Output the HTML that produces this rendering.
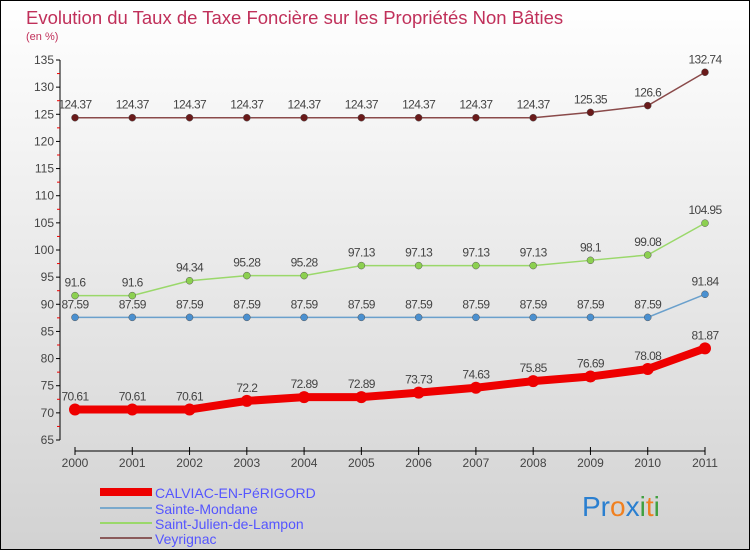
<!DOCTYPE html>
<html><head><meta charset="utf-8"><style>
body{margin:0;width:750px;height:550px;overflow:hidden}
svg{display:block;font-family:"Liberation Sans",sans-serif}
</style></head><body>
<svg id="chart" width="750" height="550">
<defs><linearGradient id="bg" x1="0" y1="0" x2="0" y2="1"><stop offset="0" stop-color="#ffffff"/><stop offset="1" stop-color="#d2d2d2"/></linearGradient></defs>
<rect x="0.5" y="0.5" width="749" height="549" fill="url(#bg)" stroke="#000"/>
<text x="26" y="24" font-size="18.5" fill="#c0305a">Evolution du Taux de Taxe Foncière sur les Propriétés Non Bâties</text>
<text x="26" y="40" font-size="11" fill="#c0305a">(en %)</text>
<g id="axes"></g>
<g id="series"></g>
<g>
<rect x="100" y="488" width="52" height="8" fill="#e00"/>
<text x="155" y="498" font-size="14" fill="#55f">CALVIAC-EN-PéRIGORD</text>
<line x1="100" y1="508" x2="152" y2="508" stroke="#7aa9cc" stroke-width="2"/>
<text x="155" y="514" font-size="14" fill="#55f">Sainte-Mondane</text>
<line x1="100" y1="523" x2="152" y2="523" stroke="#9ad86a" stroke-width="2"/>
<text x="155" y="529" font-size="14" fill="#55f">Saint-Julien-de-Lampon</text>
<line x1="100" y1="538" x2="152" y2="538" stroke="#8a5a5a" stroke-width="2"/>
<text x="155" y="544" font-size="14" fill="#55f">Veyrignac</text>
</g>
<text x="582" y="516" font-size="28"><tspan fill="#2a7fd0">Pr</tspan><tspan fill="#f08020">o</tspan><tspan fill="#2a7fd0">x</tspan><tspan fill="#40a040">i</tspan><tspan fill="#f08020">t</tspan><tspan fill="#40a040">i</tspan></text>
</svg>
<script>
const years=[2000,2001,2002,2003,2004,2005,2006,2007,2008,2009,2010,2011];
const yTicks=[65,70,75,80,85,90,95,100,105,110,115,120,125,130,135];
const calviac=[70.61,70.61,70.61,72.2,72.89,72.89,73.73,74.63,75.85,76.69,78.08,81.87];
const sainteMondane=[87.59,87.59,87.59,87.59,87.59,87.59,87.59,87.59,87.59,87.59,87.59,91.84];
const saintJulien=[91.6,91.6,94.34,95.28,95.28,97.13,97.13,97.13,97.13,98.1,99.08,104.95];
const veyrignac=[124.37,124.37,124.37,124.37,124.37,124.37,124.37,124.37,124.37,125.35,126.6,132.74];
const NS="http://www.w3.org/2000/svg";
const xS=i=>75+i*(630/11);
const yS=v=>440-(v-65)*(380/70);
function mk(t,a,p){const e=document.createElementNS(NS,t);for(const k in a)e.setAttribute(k,a[k]);p.appendChild(e);return e;}
const ax=document.getElementById('axes');
let l=mk('line',{x1:60,y1:yS(135),x2:60,y2:yS(65),stroke:'#000'},ax);


yTicks.forEach((v,i)=>{
 const y=yS(v);
 mk('line',{x1:56,y1:y,x2:60,y2:y,stroke:'#000'},ax);
 if(i<yTicks.length-1)mk('line',{x1:57,y1:y-380/28,x2:60,y2:y-380/28,stroke:'#e00'},ax);
 const t=mk('text',{x:54,y:y+4,'font-size':12,'text-anchor':'end',fill:'#444'},ax);
 t.textContent=v;
 
 
});
l=mk('line',{x1:75,y1:451,x2:705,y2:451,stroke:'#000'},ax);


years.forEach((yr,i)=>{
 const x=xS(i);
 mk('line',{x1:x,y1:447,x2:x,y2:455,stroke:'#000'},ax);
 const t=mk('text',{x:x,y:467,'font-size':12,'text-anchor':'middle',fill:'#444'},ax);
 t.textContent=yr;
 
 
});
const sg=document.getElementById('series');
function draw(vals,color,dot,w,r,name){
 const g=mk('g',{},sg);
 
 
 const pl=mk('polyline',{points:vals.map((v,i)=>xS(i)+','+yS(v)).join(' '),fill:'none',stroke:color,'stroke-width':w},g);
 
 
 vals.forEach((v,i)=>{
  const c=mk('circle',{cx:xS(i),cy:yS(v),r:r,fill:dot,stroke:w>3?dot:'#555','stroke-width':w>3?0:0.5},g);
  
  
  const t=mk('text',{x:xS(i),y:yS(v)-9,'font-size':12,'text-anchor':'middle',fill:'#444','letter-spacing':'-0.6'},g);
  t.textContent=String(v);
  
  
 });
}
draw(veyrignac,'#8a4a4a','#6a1a1a',1.5,3.5,'veyrignac');
draw(saintJulien,'#9ad86a','#8cd050',1.5,3.5,'saint-julien');
draw(sainteMondane,'#6aa0cc','#4a90d0',1.5,3.5,'sainte-mondane');
draw(calviac,'#e00','#e00',8,6,'calviac');
</script>
</body></html>
